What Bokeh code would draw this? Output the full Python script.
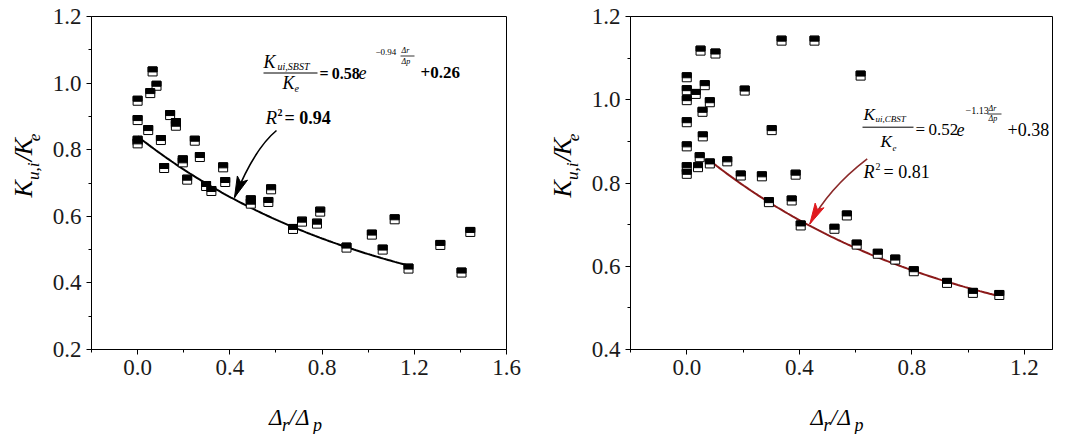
import math
import numpy as np
from bokeh.plotting import figure
from bokeh.layouts import row, column
from bokeh.models import Label, FixedTicker, PrintfTickFormatter, Range1d
from bokeh.embed import file_html
from bokeh.resources import INLINE

# ---------------- data ----------------
left_x = [0.0, 0.0, 0.0, 0.0, 0.055, 0.065, 0.082, 0.046, 0.101, 0.115, 0.141, 0.166, 0.166,
          0.196, 0.196, 0.215, 0.248, 0.270, 0.297, 0.320, 0.371, 0.380, 0.491, 0.491, 0.567,
          0.579, 0.674, 0.713, 0.778, 0.792, 0.906, 1.016, 1.063, 1.115, 1.175, 1.313, 1.405, 1.443]
left_y = [0.947, 0.889, 0.827, 0.819, 0.970, 1.035, 0.992, 0.859, 0.829, 0.745, 0.904, 0.880, 0.872,
          0.768, 0.762, 0.710, 0.827, 0.778, 0.691, 0.676, 0.747, 0.703, 0.648, 0.638, 0.643,
          0.681, 0.562, 0.584, 0.578, 0.614, 0.506, 0.545, 0.500, 0.591, 0.443, 0.514, 0.431, 0.553]

right_x = [0.0, 0.0, 0.0, 0.0, 0.0, 0.0, 0.0, 0.032, 0.049, 0.064, 0.056, 0.057, 0.046, 0.040,
           0.082, 0.082, 0.102, 0.144, 0.192, 0.206, 0.267, 0.292, 0.302, 0.337, 0.373, 0.387,
           0.405, 0.454, 0.525, 0.569, 0.604, 0.618, 0.679, 0.741, 0.807, 0.925, 1.017, 1.111]
right_y = [1.054, 1.023, 0.999, 0.946, 0.888, 0.838, 0.822, 1.014, 1.118, 1.035, 0.971, 0.912,
           0.862, 0.838, 0.994, 0.847, 1.111, 0.852, 0.818, 1.022, 0.816, 0.754, 0.927, 1.142,
           0.758, 0.820, 0.698, 1.142, 0.690, 0.722, 0.652, 1.058, 0.630, 0.616, 0.588, 0.560,
           0.536, 0.531]

left_xticks = [0.0, 0.4, 0.8, 1.2, 1.6]
left_xminor = [-0.2, 0.2, 0.6, 1.0, 1.4]
left_yticks = [0.2, 0.4, 0.6, 0.8, 1.0, 1.2]
left_yminor = [0.3, 0.5, 0.7, 0.9, 1.1]
right_xticks = [0.0, 0.4, 0.8, 1.2]
right_xminor = [-0.2, 0.2, 0.6, 1.0]
right_yticks = [0.4, 0.6, 0.8, 1.0, 1.2]
right_yminor = [0.5, 0.7, 0.9, 1.1]

# fitted curves a*exp(b*x)+c, as printed on the chart
left_fit = (0.58, -0.94, 0.26)
right_fit = (0.52, -1.13, 0.38)
left_fit_span = (0.0, 1.175)
right_fit_span = (0.082, 1.111)

# ---------------- layout / style ----------------
SERIF = "Liberation Serif"
FH = 333
TOP = 16                 # frame top (page px)
BOTTOM = 45
ROW_H = TOP + FH + BOTTOM
STRIP_H = 40             # strip holding the x titles
LX, LY = (-0.2, 1.6), (0.2, 1.2)
RX, RY = (-0.2, 1.3), (0.4, 1.2)
L_FX0, L_FW = 91, 415
R_FX0, R_FW = 630, 422
R_BR = 10
YL_W = 45                # strip holding the left y title
YR_X0, YR_W = 536, 49    # strip holding the right y title
MID = 0.33               # distance baseline -> middle of a line, in em


def make_fig(xr, yr, x0, fx0, fw, x1, xt, xm, yt, ym):
    bl, br = fx0 - x0, x1 - fx0 - fw
    p = figure(width=x1 - x0, height=ROW_H, x_range=Range1d(*xr), y_range=Range1d(*yr),
               min_border_left=bl, min_border_right=br, min_border_top=TOP,
               min_border_bottom=BOTTOM, title=None,
               output_backend="svg", toolbar_location=None, tools="")
    p.grid.visible = False
    p.outline_line_color = "black"
    p.outline_line_width = 1
    p.background_fill_color = "white"
    p.border_fill_color = "white"
    p.xaxis.ticker = FixedTicker(ticks=xt, minor_ticks=xm)
    p.yaxis.ticker = FixedTicker(ticks=yt, minor_ticks=ym)
    for ax in (p.xaxis[0], p.yaxis[0]):
        ax.major_tick_out = 5
        ax.major_tick_in = 0
        ax.minor_tick_out = 3
        ax.minor_tick_in = 0
        ax.axis_line_color = "black"
        ax.major_tick_line_color = "black"
        ax.minor_tick_line_color = "black"
        ax.major_label_text_font = SERIF
        ax.major_label_text_font_size = "23px"
        ax.major_label_text_color = "#1a1a1a"
        ax.formatter = PrintfTickFormatter(format="%.1f")
    p.xaxis.major_label_standoff = 5
    p.yaxis.major_label_standoff = 5
    return p


def blank_fig(x0, w, y0, h):
    # data coordinates of this strip equal page pixels (y grows downward)
    p = figure(width=w, height=h, x_range=Range1d(x0, x0 + w),
               y_range=Range1d(y0 + h, y0), x_axis_type=None, y_axis_type=None, title=None,
               min_border_left=0, min_border_right=0, min_border_top=0, min_border_bottom=0,
               output_backend="svg", toolbar_location=None, tools="")
    p.grid.visible = False
    p.outline_line_color = None
    p.background_fill_color = "white"
    p.border_fill_color = "white"
    return p


def mapper(fx0, fw, xr, yr):
    def f(px, py):
        x = xr[0] + (px - fx0) / fw * (xr[1] - xr[0])
        y = yr[1] - (py - TOP) / FH * (yr[1] - yr[0])
        return x, y
    return f


def ident(px, py):
    return px, py


def add_markers(p, xs, ys, yr):
    dpx = (yr[1] - yr[0]) / FH
    p.rect(xs, ys, width=9, height=9, width_units="screen", height_units="screen",
           fill_color="white", line_color="black", line_width=1)
    p.rect(xs, [v + 2 * dpx for v in ys], width=9, height=5, width_units="screen",
           height_units="screen", fill_color="black", line_color="black", line_width=1)


def add_fit(p, fit, span, color):
    a, b, c = fit
    xx = np.linspace(span[0], span[1], 120)
    p.line(xx, a * np.exp(b * xx) + c, line_color=color, line_width=2)


def add_text(p, m, pieces):
    """pieces: (text, left x, baseline y, size, style) in page pixels."""
    for (t, px, py, size, style) in pieces:
        x, y = m(px, py - MID * size)
        p.add_layout(Label(x=x, y=y, text=t, text_font=SERIF, text_font_size=f"{size}px",
                           text_font_style=style, text_align="left", text_baseline="middle",
                           text_color="black"))


def add_vtext(p, pieces):
    """rotated pieces: (text, centre x, centre y, size, style) in page pixels."""
    for (t, px, py, size, style) in pieces:
        p.add_layout(Label(x=px, y=py, text=t, text_font=SERIF, text_font_size=f"{size}px",
                           text_font_style=style, text_align="center", text_baseline="middle",
                           angle=math.pi / 2, text_color="black"))


def add_hline(p, m, x0, x1, py, color="black", w=1):
    a = m(x0, py)
    b = m(x1, py)
    p.segment([a[0]], [a[1]], [b[0]], [b[1]], line_color=color, line_width=w)


def add_arrow(p, m, start, ctrl, tip, shaft_color, head_color, hl, hw):
    s = m(*start); c = m(*ctrl); t = m(*tip)
    p.quadratic([s[0]], [s[1]], [t[0]], [t[1]], [c[0]], [c[1]], line_color=shaft_color, line_width=1.6)
    dx, dy = tip[0] - ctrl[0], tip[1] - ctrl[1]
    n = math.hypot(dx, dy)
    ux, uy = dx / n, dy / n
    nx, ny = -uy, ux
    bx, by = tip[0] - ux * hl, tip[1] - uy * hl
    nbx, nby = tip[0] - ux * hl * 0.78, tip[1] - uy * hl * 0.78
    pts = [tip, (bx + nx * hw / 2, by + ny * hw / 2), (nbx, nby), (bx - nx * hw / 2, by - ny * hw / 2)]
    dp = [m(*q) for q in pts]
    p.patch([q[0] for q in dp], [q[1] for q in dp], fill_color=head_color, line_color=head_color)


def y_title(p, dx):
    add_vtext(p, [
        ("K", 23 + dx, 204, 26, "italic"),
        ("u,i", 33 + dx, 183, 17, "italic"),
        ("/", 23 + dx, 167, 26, "italic"),
        ("K", 23 + dx, 154, 26, "italic"),
        ("e", 34 + dx, 143, 17, "italic"),
    ])


def x_title(p, x_start):
    add_text(p, ident, [
        ("Δ", x_start, 425, 23, "italic"),
        ("r", x_start + 13, 430, 18, "italic"),
        ("/", x_start + 20, 425, 23, "italic"),
        ("Δ", x_start + 27, 425, 23, "italic"),
        ("p", x_start + 44, 430, 18, "italic"),
    ])


# ---------------- left chart ----------------
pl = make_fig(LX, LY, YL_W, L_FX0, L_FW, YR_X0, left_xticks, left_xminor,
              left_yticks, left_yminor)
ml = mapper(L_FX0, L_FW, LX, LY)
add_fit(pl, left_fit, left_fit_span, "black")
add_markers(pl, left_x, left_y, LY)
add_arrow(pl, ml, (276, 130), (254, 148), (234, 197), "black", "black", 21, 11)

add_text(pl, ml, [
    ("K", 263, 67, 18, "italic"),
    ("ui,SBST", 277, 69, 10, "italic"),
    ("K", 282, 88, 18, "italic"),
    ("e", 294, 91, 10, "italic"),
    ("=\u20090.58", 319, 78, 16, "bold"),
    ("e", 358, 78, 18, "italic"),
    ("−0.94", 375, 54, 9, "normal"),
    ("Δr", 401, 53, 8, "italic"),
    ("Δp", 401, 64, 8, "italic"),
    ("+0.26", 420, 78, 17, "bold"),
    ("R", 265, 123, 19, "italic"),
    ("2", 277, 115, 10, "bold"),
    ("= 0.94", 284, 123, 18, "bold"),
])
add_hline(pl, ml, 263, 317, 72.5)
add_hline(pl, ml, 400, 414, 55.5, w=0.8)

# ---------------- right chart ----------------
total_w = R_FX0 + R_FW + R_BR
pr = make_fig(RX, RY, YR_X0 + YR_W, R_FX0, R_FW, total_w, right_xticks, right_xminor,
              right_yticks, right_yminor)
mr = mapper(R_FX0, R_FW, RX, RY)
add_fit(pr, right_fit, right_fit_span, "#8b1a1a")
add_markers(pr, right_x, right_y, RY)
add_arrow(pr, mr, (866.7, 158.3), (828, 188), (809.3, 223.5), "#8b2a2a", "#e01a1f", 21, 10)

add_text(pr, mr, [
    ("K", 863, 120, 17, "italic"),
    ("ui,CBST", 875, 121, 9, "italic"),
    ("K", 880, 147, 17, "italic"),
    ("e", 892, 150, 9, "italic"),
    ("=\u20090.52", 915, 135, 17, "normal"),
    ("e", 956, 135, 18, "italic"),
    ("−1.13", 965, 113, 10, "normal"),
    ("Δr", 988, 111, 8, "italic"),
    ("Δp", 988, 121, 8, "italic"),
    ("+0.38", 1007, 135, 18, "normal"),
    ("R", 863, 177, 18, "italic"),
    ("2", 875, 169, 10, "normal"),
    ("= 0.81", 883, 177, 18, "normal"),
])
add_hline(pr, mr, 862, 913, 126.7)
add_hline(pr, mr, 987, 1001, 113.5, w=0.8)

# ---------------- axis titles in their own strips ----------------
yl = blank_fig(0, YL_W, 0, ROW_H)
y_title(yl, 0)
yr = blank_fig(YR_X0, YR_W, 0, ROW_H)
y_title(yr, R_FX0 - L_FX0)

xs = blank_fig(0, total_w, ROW_H, STRIP_H)
x_title(xs, L_FX0 + L_FW / 2 - 30)
x_title(xs, R_FX0 + R_FW / 2 - 31)

layout = column(row(yl, pl, yr, pr), xs)
open("out.html", "w").write(file_html(layout, INLINE))
